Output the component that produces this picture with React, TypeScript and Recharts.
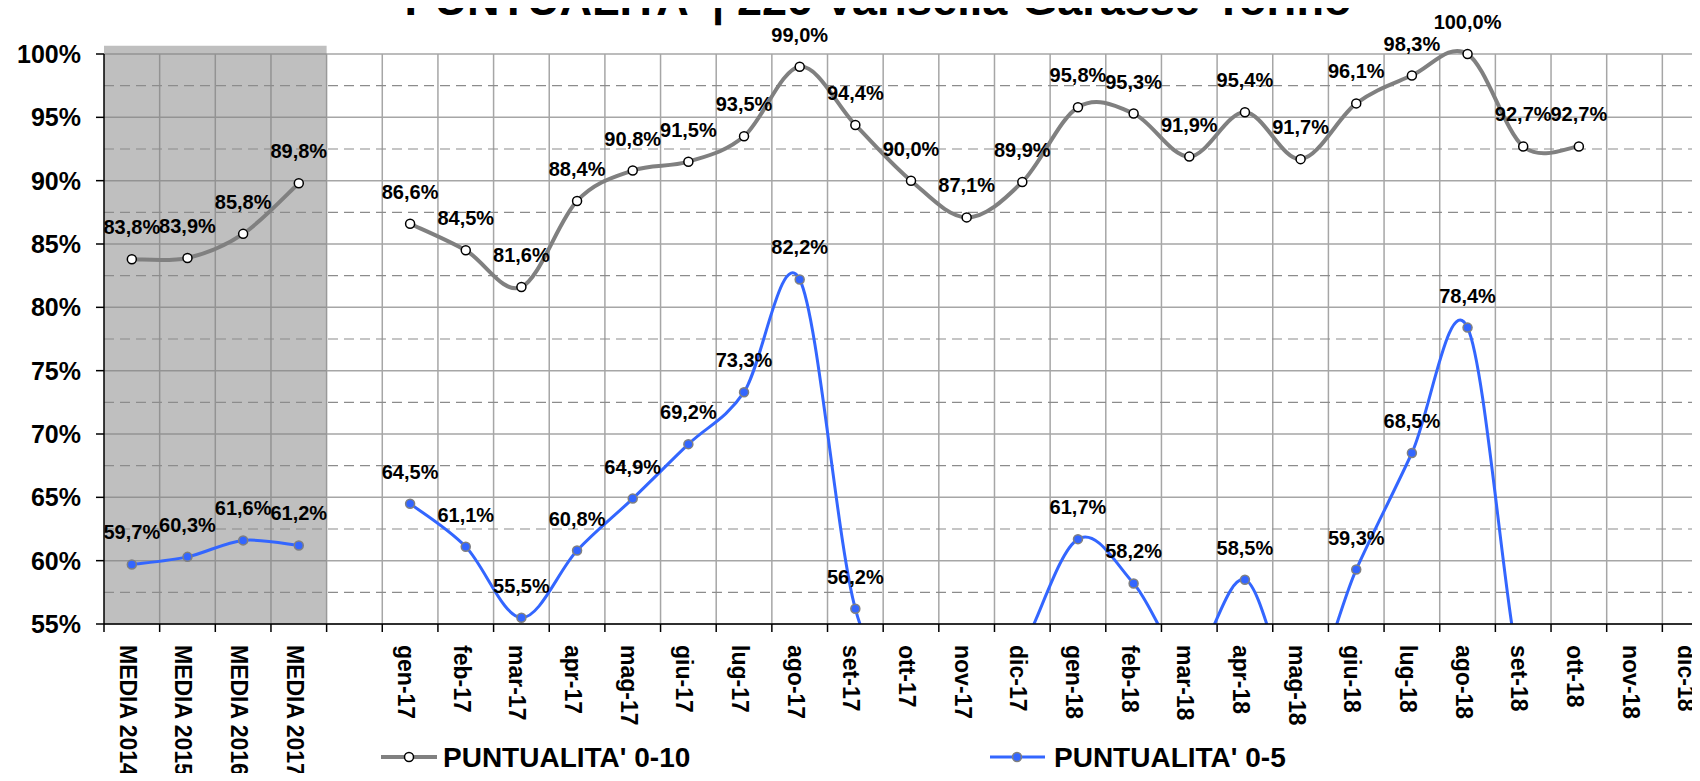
import {
  ComposedChart,
  Line,
  XAxis,
  YAxis,
  CartesianGrid,
  ReferenceArea,
  ReferenceLine,
  LabelList,
} from "recharts"

const categories = [
  "MEDIA 2014", "MEDIA 2015", "MEDIA 2016", "MEDIA 2017", "",
  "gen-17", "feb-17", "mar-17", "apr-17", "mag-17", "giu-17",
  "lug-17", "ago-17", "set-17", "ott-17", "nov-17", "dic-17",
  "gen-18", "feb-18", "mar-18", "apr-18", "mag-18", "giu-18",
  "lug-18", "ago-18", "set-18", "ott-18", "nov-18", "dic-18",
]

// PUNTUALITA' 0-10
const puntualita010 = [
  83.8, 83.9, 85.8, 89.8, null,
  86.6, 84.5, 81.6, 88.4, 90.8, 91.5, 93.5, 99.0, 94.4, 90.0, 87.1, 89.9,
  95.8, 95.3, 91.9, 95.4, 91.7, 96.1, 98.3, 100.0, 92.7, 92.7, null, null,
]

// PUNTUALITA' 0-5 (values under 55% fall outside the plot, estimated from the curve)
const puntualita05 = [
  59.7, 60.3, 61.6, 61.2, null,
  64.5, 61.1, 55.5, 60.8, 64.9, 69.2, 73.3, 82.2, 56.2, 50, 45, 53,
  61.7, 58.2, 52, 58.5, 49, 59.3, 68.5, 78.4, 50, 45, null, null,
]

const seriesNames = ["PUNTUALITA' 0-10", "PUNTUALITA' 0-5"]
const yTicks = [55, 60, 65, 70, 75, 80, 85, 90, 95, 100]
const yMinorTicks = [57.5, 62.5, 67.5, 72.5, 77.5, 82.5, 87.5, 92.5, 97.5]
const yDomain = [55, 100]
const shadedFrom = "MEDIA 2014"
const shadedTo = "MEDIA 2017"
const shadedTop = 100.65

const title = "PUNTUALITA' | 226 Varisella-Garasse-Torino"

const FONT = '"Liberation Sans", Arial, sans-serif'
const GRAY = "#808080"
const BLUE = "#3366ff"
const GRID = "#a6a6a6"

const CHART_W = 1730
const CHART_H = 781
const PLOT_LEFT = 104
const PLOT_TOP = 54
const PLOT_RIGHT_MARGIN = 12
const X_AXIS_H = 157
const HALF_BAND = (CHART_W - PLOT_LEFT - PLOT_RIGHT_MARGIN) / categories.length / 2

const data = categories.map((cat, i) => ({
  cat,
  p10: puntualita010[i],
  p5: puntualita05[i],
}))

// smoothing similar to the spreadsheet one (catmull-rom as bezier)
function smoothCurve(context: any) {
  let pts: number[][] = []
  return {
    areaStart() {},
    areaEnd() {},
    lineStart() {
      pts = []
    },
    point(x: number, y: number) {
      pts.push([+x, +y])
    },
    lineEnd() {
      if (!pts.length) return
      context.moveTo(pts[0][0], pts[0][1])
      for (let i = 0; i < pts.length - 1; i++) {
        const p0 = pts[Math.max(i - 1, 0)]
        const p1 = pts[i]
        const p2 = pts[i + 1]
        const p3 = pts[Math.min(i + 2, pts.length - 1)]
        context.bezierCurveTo(
          p1[0] + (p2[0] - p0[0]) / 6,
          p1[1] + (p2[1] - p0[1]) / 6,
          p2[0] - (p3[0] - p1[0]) / 6,
          p2[1] - (p3[1] - p1[1]) / 6,
          p2[0],
          p2[1]
        )
      }
    },
  }
}

const fmt = (v: number) => v.toFixed(1).replace(".", ",") + "%"

function ValueLabel(props: any) {
  const { x, y, value } = props
  if (value == null || x == null || y == null || value < yDomain[0]) return null
  return (
    <text
      x={x}
      y={y - 25}
      textAnchor="middle"
      fontSize={20}
      fontWeight="bold"
      fill="#000"
      fontFamily={FONT}
    >
      {fmt(value)}
    </text>
  )
}

function CategoryTick({ x, y, payload }: any) {
  return (
    <g>
      <line
        x1={x - HALF_BAND}
        x2={x - HALF_BAND}
        y1={y}
        y2={y + 8}
        stroke="#000"
        strokeWidth={1.5}
      />
      <text
        transform={`translate(${x - 12},${y + 21}) rotate(90)`}
        textAnchor="start"
        fontSize={23}
        fontWeight="bold"
        fill="#000"
        fontFamily={FONT}
      >
        {payload?.value}
      </text>
    </g>
  )
}

export default function App() {
  return (
    <div
      style={{
        position: "relative",
        width: 1700,
        height: 781,
        overflow: "hidden",
        margin: -8,
        fontFamily: FONT,
        background: "#fff",
      }}
    >
      <div style={{ position: "absolute", left: 0, top: 0 }}>
        <ComposedChart
          width={CHART_W}
          height={CHART_H}
          data={data}
          margin={{ top: PLOT_TOP, right: PLOT_RIGHT_MARGIN, bottom: 0, left: 0 }}
        >
          <ReferenceArea
            x1={shadedFrom}
            x2={shadedTo}
            y1={yDomain[0]}
            y2={shadedTop}
            fill="#808080"
            fillOpacity={0.5}
            stroke="none"
            ifOverflow="visible"
          />
          <CartesianGrid
            stroke={GRID}
            strokeWidth={1.5}
            verticalCoordinatesGenerator={({ offset }: any) =>
              categories.map(
                (_, i) => offset.left + ((i + 1) * offset.width) / categories.length
              )
            }
          />
          {yMinorTicks.map((v) => (
            <ReferenceLine
              key={v}
              y={v}
              stroke="#8c8c8c"
              strokeWidth={1.2}
              strokeDasharray="10 6"
            />
          ))}
          <XAxis
            dataKey="cat"
            scale="band"
            interval={0}
            height={X_AXIS_H}
            axisLine={{ stroke: "#000", strokeWidth: 1.5 }}
            tickLine={false}
            tickSize={0}
            tickMargin={0}
            tick={<CategoryTick />}
          />
          <YAxis
            domain={yDomain}
            ticks={yTicks}
            width={PLOT_LEFT}
            tickFormatter={(v) => `${v}%`}
            tick={{ fontSize: 25, fontWeight: "bold", fill: "#000" }}
            axisLine={{ stroke: "#000", strokeWidth: 1.5 }}
            tickLine={{ stroke: "#000", strokeWidth: 1.5 }}
            tickSize={8}
            tickMargin={15}
          />
          <YAxis yAxisId="p5" hide domain={yDomain} allowDataOverflow />
          <Line
            dataKey="p10"
            name={seriesNames[0]}
            type={smoothCurve as any}
            stroke={GRAY}
            strokeWidth={4}
            dot={{ r: 4.5, fill: "#fff", stroke: "#000", strokeWidth: 1.5 }}
            activeDot={false}
            isAnimationActive={false}
          >
            <LabelList dataKey="p10" content={<ValueLabel />} />
          </Line>
          <Line
            yAxisId="p5"
            dataKey="p5"
            name={seriesNames[1]}
            type={smoothCurve as any}
            stroke={BLUE}
            strokeWidth={3}
            dot={{ r: 4.5, fill: BLUE, stroke: GRAY, strokeWidth: 1.5 }}
            activeDot={false}
            isAnimationActive={false}
          >
            <LabelList dataKey="p5" content={<ValueLabel />} />
          </Line>
        </ComposedChart>
      </div>
      <svg
        width={1700}
        height={781}
        style={{ position: "absolute", left: 0, top: 0, pointerEvents: "none" }}
      >
        <text
          x={878}
          y={15}
          textAnchor="middle"
          fontSize={45}
          fontWeight="bold"
          fill="#000"
          fontFamily={FONT}
        >
          {title}
        </text>
        <g>
          <line x1={381} x2={437} y1={757} y2={757} stroke={GRAY} strokeWidth={4} />
          <circle cx={409} cy={757} r={4.5} fill="#fff" stroke="#000" strokeWidth={1.5} />
          <text x={443} y={767} fontSize={28} fontWeight="bold" fill="#000" fontFamily={FONT}>
            {seriesNames[0]}
          </text>
        </g>
        <g>
          <line x1={990} x2={1045} y1={757} y2={757} stroke={BLUE} strokeWidth={3} />
          <circle cx={1017} cy={757} r={4.5} fill={BLUE} stroke={GRAY} strokeWidth={1.5} />
          <text x={1054} y={767} fontSize={28} fontWeight="bold" fill="#000" fontFamily={FONT}>
            {seriesNames[1]}
          </text>
        </g>
      </svg>
    </div>
  )
}
